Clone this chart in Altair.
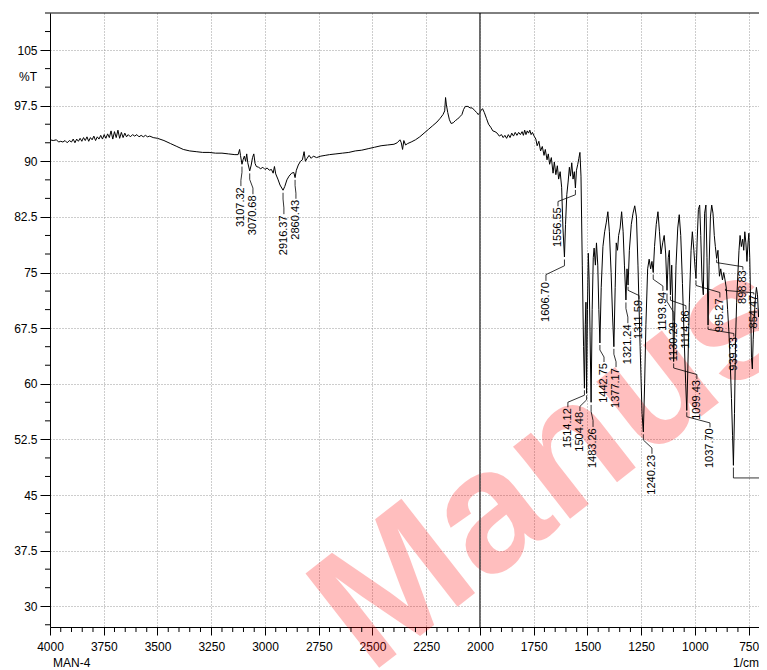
import altair as alt
import pandas as pd

# ---------------- data ----------------
wavenumber = [
    4000, 3985, 3970, 3960, 3950, 3940, 3930, 3920, 3910, 3900, 3892, 3884, 3876, 3868, 3860, 3852,
    3844, 3836, 3828, 3820, 3812, 3804, 3796, 3788, 3780, 3772, 3764, 3756, 3748, 3740, 3732, 3724,
    3716, 3708, 3700, 3692, 3684, 3676, 3668, 3660, 3652, 3644, 3636, 3626, 3616, 3606, 3596, 3586,
    3576, 3566, 3556, 3546, 3536, 3520, 3500, 3470, 3440, 3410, 3380, 3350, 3320, 3290, 3260, 3230,
    3200, 3170, 3140, 3125, 3118, 3114, 3107, 3102, 3096, 3090, 3085, 3080, 3071, 3064, 3058, 3052,
    3046, 3040, 3030, 3020, 3010, 3000, 2990, 2980, 2970, 2962, 2956, 2950, 2940, 2930, 2916, 2908,
    2898, 2888, 2876, 2866, 2860, 2854, 2845, 2835, 2826, 2818, 2812, 2804, 2795, 2785, 2775, 2760,
    2740, 2720, 2700, 2670, 2640, 2610, 2580, 2550, 2520, 2490, 2460, 2430, 2400, 2385, 2372, 2366,
    2360, 2354, 2346, 2336, 2320, 2300, 2280, 2260, 2240, 2220, 2200, 2185, 2172, 2164, 2160, 2156,
    2150, 2142, 2134, 2124, 2114, 2104, 2094, 2084, 2076, 2068, 2056, 2046, 2036, 2026, 2016, 2008,
    2000, 1994, 1988, 1980, 1970, 1960, 1950, 1940, 1930, 1920, 1910, 1900, 1892, 1884, 1876, 1868,
    1860, 1852, 1844, 1836, 1828, 1820, 1812, 1804, 1798, 1792, 1786, 1780, 1774, 1768, 1762, 1756,
    1748, 1740, 1734, 1726, 1718, 1710, 1702, 1696, 1688, 1682, 1676, 1668, 1660, 1654, 1647, 1640,
    1634, 1627, 1620, 1614, 1607, 1602, 1596, 1590, 1584, 1579, 1573, 1567, 1561, 1556, 1551, 1545,
    1540, 1535, 1530, 1524, 1518, 1514, 1510, 1507, 1504, 1500, 1496, 1492, 1488, 1483, 1478, 1473,
    1469, 1463, 1458, 1452, 1447, 1442, 1436, 1428, 1420, 1412, 1405, 1398, 1390, 1383, 1377, 1371,
    1366, 1360, 1355, 1348, 1341, 1334, 1328, 1321, 1316, 1311, 1305, 1296, 1288, 1280, 1272, 1265,
    1255, 1246, 1240, 1234, 1228, 1220, 1213, 1206, 1200, 1194, 1188, 1180, 1172, 1165, 1158, 1150,
    1143, 1136, 1130, 1124, 1119, 1114, 1108, 1103, 1099, 1094, 1088, 1080, 1073, 1066, 1058, 1050,
    1043, 1038, 1033, 1026, 1018, 1012, 1005, 999, 995, 990, 984, 978, 973, 967, 961, 955,
    949, 944, 939, 934, 928, 922, 916, 910, 905, 899, 893, 886, 880, 872, 866, 860,
    854, 848, 842, 836, 830, 825, 821, 816, 811, 806, 800, 795, 790, 784, 778, 773,
    768, 763, 758, 753, 749, 745, 741, 737, 733, 729, 724, 719, 714, 709, 704, 699,
    694, 689, 684, 679, 674, 670, 665,
]
transmittance = [
    92.9, 92.8, 92.9, 92.6, 92.7, 92.6, 92.8, 92.5, 92.8, 92.6, 93.0, 92.5, 93.0, 92.7, 93.1, 92.7,
    93.2, 92.8, 93.3, 92.7, 93.2, 92.9, 93.4, 92.8, 93.3, 93.0, 93.5, 93.0, 93.6, 93.1, 93.7, 93.2,
    94.1, 93.0, 94.0, 93.2, 94.2, 93.1, 93.9, 93.2, 93.8, 93.3, 93.6, 93.3, 93.6, 93.4, 93.6, 93.3,
    93.5, 93.3, 93.5, 93.3, 93.4, 93.2, 93.1, 92.8, 92.4, 92.0, 91.6, 91.4, 91.3, 91.2, 91.2, 91.1,
    91.1, 91.0, 90.9, 90.9, 91.6, 90.8, 89.6, 90.2, 90.7, 90.0, 91.0, 89.8, 88.7, 89.5, 90.5, 91.0,
    89.7, 89.3, 89.2, 89.0, 89.2, 88.9, 89.1, 88.8, 88.9, 88.4, 89.3, 88.3, 87.6, 86.8, 86.1, 86.6,
    87.5, 88.0, 88.4, 88.5, 87.8, 88.8, 89.5, 90.0, 90.2, 91.3, 90.0, 90.4, 90.8, 90.4, 90.7, 90.5,
    90.7, 90.8, 90.9, 91.0, 91.1, 91.2, 91.4, 91.5, 91.7, 91.9, 92.1, 92.2, 92.3, 92.5, 92.9, 92.5,
    91.6, 92.8, 92.2, 92.4, 92.6, 92.9, 93.3, 93.8, 94.3, 94.8, 95.3, 95.8, 96.3, 96.8, 98.6, 97.6,
    96.6, 95.6, 95.1, 95.2, 95.5, 95.7, 96.0, 96.3, 97.0, 97.4, 97.4, 97.2, 97.2, 96.9, 96.6, 96.3,
    96.6, 96.9, 97.1, 96.6, 95.8, 95.0, 94.6, 94.1, 94.0, 93.8, 93.4, 93.6, 93.2, 93.5, 93.1, 93.6,
    93.2, 93.8, 93.4, 93.9, 93.5, 93.9, 93.6, 94.0, 93.5, 94.2, 93.6, 94.1, 93.8, 94.2, 93.6, 93.9,
    93.4, 93.0, 92.1, 92.7, 91.4, 92.0, 90.8, 91.6, 90.2, 91.0, 89.6, 90.5, 88.4, 89.9, 88.2, 89.4,
    87.6, 88.6, 86.5, 81.0, 77.1, 81.5, 85.5, 87.2, 89.2, 88.0, 89.8, 87.6, 88.6, 86.4, 88.8, 89.6,
    90.4, 91.2, 88.0, 76.0, 65.0, 59.4, 68.0, 71.0, 58.7, 70.0, 77.6, 74.0, 67.0, 57.5, 70.0, 77.0,
    78.3, 76.0, 79.0, 76.0, 70.0, 65.5, 73.0, 78.5, 80.5, 81.8, 83.2, 80.5, 75.0, 69.0, 65.0, 73.0,
    79.0, 78.0, 80.0, 81.0, 83.2, 80.5, 76.0, 71.3, 75.5, 73.3, 78.0, 81.5, 83.0, 84.0, 82.5, 76.0,
    65.0, 56.0, 53.5, 60.0, 68.0, 75.5, 76.8, 75.5, 76.5, 75.0, 78.5, 81.5, 83.2, 80.5, 77.5, 79.0,
    80.0, 77.5, 72.6, 77.0, 78.0, 72.0, 76.0, 70.0, 63.0, 69.0, 76.0, 81.0, 82.8, 80.0, 73.5, 66.0,
    60.0, 56.4, 62.0, 71.0, 78.0, 80.5, 78.0, 75.5, 74.2, 79.0, 83.5, 84.1, 80.0, 74.0, 72.0, 83.0,
    84.1, 77.0, 67.9, 76.0, 82.5, 84.1, 83.0, 80.0, 78.5, 76.9, 78.0, 74.5, 75.5, 74.0, 75.0, 74.0,
    72.9, 70.0, 67.0, 63.0, 58.0, 53.0, 49.0, 56.0, 66.0, 71.0, 75.0, 78.0, 80.0, 78.5, 79.5, 78.0,
    80.5, 79.0, 76.5, 79.0, 80.3, 77.0, 71.0, 63.5, 62.0, 66.0, 69.0, 71.5, 73.0, 72.0, 69.0, 70.5,
    72.5, 73.0, 75.0, 77.5, 76.5, 77.0, 77.5,
]

peak_names = ["3107.32", "3070.68", "2916.37", "2860.43", "1606.70", "1556.55", "1514.12",
              "1504.48", "1483.26", "1442.75", "1377.17", "1321.24", "1311.59", "1240.23",
              "1193.94", "1130.29", "1114.86", "1099.43", "1037.70", "995.27", "939.33",
              "898.83", "854.47"]
peak_wn = [3107, 3071, 2916, 2860, 1607, 1556, 1514, 1504, 1483, 1442, 1377, 1321, 1311, 1240,
           1194, 1130, 1114, 1099, 1038, 995, 939, 899, 858]
peak_T = [89.6, 88.7, 86.1, 87.8, 77.1, 86.4, 59.4, 58.7, 57.5, 65.5, 65.0, 71.3, 73.3, 53.5,
          75.0, 72.6, 72.0, 63.0, 56.4, 74.2, 67.9, 76.9, 72.9]
label_wn = [3112, 3056, 2912, 2856, 1693, 1637, 1591, 1535, 1474, 1423, 1367, 1312, 1260, 1200,
            1149, 1098, 1042, 991, 930, 884, 819, 777, 726]
label_T = [86.5, 85.4, 82.7, 84.8, 73.7, 83.8, 56.7, 56.2, 54.0, 62.8, 62.1, 68.0, 71.3, 50.4,
           72.4, 68.3, 69.9, 60.5, 54.0, 71.5, 66.3, 75.3, 72.0]

# leader of a label lying beyond the cropped right edge (peak wn, peak %T, elbow %T)
offscreen_wn = [821]
offscreen_T = [49.0]
offscreen_elbow = [47.3]

x_ticks = [4000, 3750, 3500, 3250, 3000, 2750, 2500, 2250, 2000, 1750, 1500, 1250, 1000, 750]
y_ticks = [30, 37.5, 45, 52.5, 60, 67.5, 75, 82.5, 90, 97.5, 105]
x_minor = [w for w in range(750, 4000, 50) if w % 250 != 0]
y_minor = [2.5 * k for k in range(11, 45) if (k - 12) % 3 != 0]

# ---------------- layout ----------------
W, H = 709, 614
FONT = "Liberation Sans"
xs = alt.Scale(domain=[702, 4000], reverse=True, nice=False, zero=False)
ys = alt.Scale(domain=[27.2, 110], nice=False, zero=False)

spec_df = pd.DataFrame({"wn": wavenumber, "T": transmittance})

# leaders: peak tip -> short stub -> label column -> label top
rows = []
for i, (pw, pt, lw, lt) in enumerate(zip(peak_wn, peak_T, label_wn, label_T)):
    d = pt - lt
    pts = [(pw, pt - 0.1 * d), (pw, pt - 0.35 * d), (lw, lt + 0.3 * d), (lw, lt + 0.05 * d)]
    for j, (a, b) in enumerate(pts):
        rows.append({"id": i, "ord": j, "wn": a, "T": b})
for k, (pw, pt, et) in enumerate(zip(offscreen_wn, offscreen_T, offscreen_elbow)):
    for j, (a, b) in enumerate([(pw, pt - 0.3), (pw, et), (500, et)]):
        rows.append({"id": 100 + k, "ord": j, "wn": a, "T": b})
leader_df = pd.DataFrame(rows)
label_df = pd.DataFrame({"name": peak_names, "wn": label_wn, "T": label_T})

x_axis = alt.Axis(values=x_ticks, format="d", title=None, grid=True, gridDash=[1, 2],
                  gridColor="#9a9a9a", tickSize=8, tickColor="black", domainColor="black",
                  labelFont=FONT, labelFontSize=12, labelColor="black", labelPadding=6,
                  labelFlush=False, labelOverlap=False, labelBound=False)
y_axis = alt.Axis(values=y_ticks, format="~g", title=None, grid=True, gridDash=[1, 2],
                  gridColor="#9a9a9a", tickSize=10, tickColor="black", domainColor="black",
                  labelFont=FONT, labelFontSize=12, labelColor="black", labelPadding=3,
                  labelFlush=False, labelOverlap=False, labelBound=False)

watermark = alt.Chart(pd.DataFrame({"t": ["Manuscript"]})).mark_text(
    align="left", baseline="alphabetic", angle=322, fontSize=174, font=FONT,
    fontWeight="bold", color="red", opacity=0.25
).encode(x=alt.value(320), y=alt.value(662), text="t:N")

spectrum = alt.Chart(spec_df).mark_line(color="black", strokeWidth=1, clip=True).encode(
    x=alt.X("wn:Q", scale=xs, axis=x_axis),
    y=alt.Y("T:Q", scale=ys, axis=y_axis),
)

mid_rule = alt.Chart(pd.DataFrame({"wn": [2000]})).mark_rule(
    color="#444444", strokeWidth=1.5).encode(x=alt.X("wn:Q", scale=xs))

top_rule = alt.Chart(pd.DataFrame({"T": [110]})).mark_rule(
    color="black", strokeWidth=1).encode(y=alt.Y("T:Q", scale=ys))

x_minor_ticks = alt.Chart(pd.DataFrame({"wn": x_minor})).mark_rule(
    color="black", strokeWidth=1).encode(
    x=alt.X("wn:Q", scale=xs), y=alt.value(H), y2=alt.value(H + 5))

y_minor_ticks = alt.Chart(pd.DataFrame({"T": y_minor})).mark_rule(
    color="black", strokeWidth=1).encode(
    y=alt.Y("T:Q", scale=ys), x=alt.value(-5), x2=alt.value(0))

leaders = alt.Chart(leader_df).mark_line(color="black", strokeWidth=0.8, clip=True).encode(
    x=alt.X("wn:Q", scale=xs), y=alt.Y("T:Q", scale=ys), detail="id:N", order="ord:Q")

labels = alt.Chart(label_df).mark_text(
    angle=270, align="right", baseline="middle", fontSize=11, font=FONT, color="black"
).encode(x=alt.X("wn:Q", scale=xs), y=alt.Y("T:Q", scale=ys), text="name:N")

unit_T = alt.Chart(pd.DataFrame({"T": [101.4], "s": ["%T"]})).mark_text(
    align="right", baseline="middle", fontSize=12, font=FONT, color="black"
).encode(x=alt.value(-13), y=alt.Y("T:Q", scale=ys), text="s:N")

man4 = alt.Chart(pd.DataFrame({"s": ["MAN-4"]})).mark_text(
    align="left", baseline="middle", fontSize=12, font=FONT, color="black"
).encode(x=alt.value(3), y=alt.value(H + 36), text="s:N")
unit_x = alt.Chart(pd.DataFrame({"s": ["1/cm"]})).mark_text(
    align="right", baseline="middle", fontSize=12, font=FONT, color="black"
).encode(x=alt.value(W), y=alt.value(H + 36), text="s:N")

chart = alt.layer(
    watermark, spectrum, mid_rule, top_rule, x_minor_ticks, y_minor_ticks,
    leaders, labels, unit_T, man4, unit_x
).properties(
    width=W, height=H, autosize="none",
    padding={"left": 42, "top": 5, "right": 0, "bottom": 43},
).configure_view(stroke=None)

chart.save("out.html", embed_options={"renderer": "svg", "actions": False})
